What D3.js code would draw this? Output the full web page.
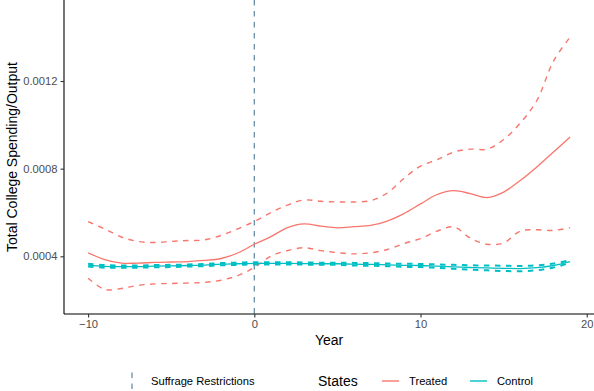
<!DOCTYPE html>
<html>
<head>
<meta charset="utf-8">
<script src="https://cdn.jsdelivr.net/npm/d3@7"></script>
<style>
  html, body { margin: 0; padding: 0; background: #fff; }
  svg { display: block; font-family: "Liberation Sans", Arial, sans-serif; }
</style>
</head>
<body>
<svg id="chart" width="594" height="391"></svg>
<script>
// Event time (years relative to the suffrage restriction)
const years = [-10,-9,-8,-7,-6,-5,-4,-3,-2,-1,0,1,2,3,4,5,6,7,8,9,10,11,12,13,14,15,16,17,18,19];

// Treated states: fitted mean and 95% band
const treatedMean  = [0.000416,0.000385,0.000369,0.000369,0.000372,0.000374,0.000376,0.000381,0.000390,0.000415,
                      0.000455,0.000490,0.000531,0.000548,0.000538,0.000530,0.000535,0.000541,0.000561,0.000595,
                      0.000639,0.000682,0.000700,0.000686,0.000668,0.000693,0.000746,0.000808,0.000876,0.000944];
const treatedUpper = [0.000558,0.000525,0.000488,0.000468,0.000463,0.000468,0.000472,0.000475,0.000495,0.000525,
                      0.000559,0.000600,0.000634,0.000657,0.000651,0.000648,0.000648,0.000654,0.000689,0.000755,
                      0.000812,0.000841,0.000876,0.000889,0.000889,0.000933,0.001008,0.001111,0.001291,0.001400];
const treatedLower = [0.000300,0.000249,0.000253,0.000267,0.000274,0.000276,0.000278,0.000281,0.000291,0.000312,
                      0.000349,0.000401,0.000426,0.000439,0.000426,0.000417,0.000411,0.000416,0.000431,0.000458,
                      0.000481,0.000515,0.000534,0.000483,0.000455,0.000461,0.000515,0.000521,0.000518,0.000531];

// Control states: fitted mean and 95% band
const controlMean  = [0.000360,0.000354,0.000353,0.000353,0.000355,0.000356,0.000358,0.000360,0.000364,0.000366,
                      0.000368,0.000368,0.000368,0.000367,0.000366,0.000366,0.000364,0.000363,0.000361,0.000359,
                      0.000358,0.000355,0.000352,0.000349,0.000347,0.000345,0.000344,0.000348,0.000358,0.000376];
const controlUpper = [0.000366,0.000360,0.000358,0.000358,0.000360,0.000361,0.000363,0.000365,0.000369,0.000371,
                      0.000373,0.000373,0.000373,0.000372,0.000371,0.000371,0.000370,0.000369,0.000367,0.000366,
                      0.000365,0.000363,0.000361,0.000359,0.000358,0.000357,0.000356,0.000359,0.000367,0.000382];
const controlLower = [0.000354,0.000348,0.000348,0.000348,0.000350,0.000351,0.000353,0.000355,0.000359,0.000361,
                      0.000363,0.000363,0.000363,0.000362,0.000361,0.000361,0.000358,0.000357,0.000355,0.000352,
                      0.000351,0.000347,0.000343,0.000339,0.000336,0.000333,0.000332,0.000337,0.000349,0.000370];

const xTicks = [-10, 0, 10, 20];
const yTicks = [0.0004, 0.0008, 0.0012];
const eventYear = 0;

const RED = "#F8766D", TEAL = "#00BFC4", VCOL = "#6a8ea4";

const svg = d3.select("#chart");
const pLeft = 64, pRight = 594.2, pTop = 0, pBottom = 314;

const x = d3.scaleLinear().domain([-11.45, 20.45]).range([pLeft, pRight]);
const y = d3.scaleLinear().domain([0.0001367, 0.0015697]).range([pBottom, pTop]);

const plot = svg.append("g");

// Treatment-year marker
plot.append("line")
  .attr("x1", x(eventYear)).attr("x2", x(eventYear))
  .attr("y1", pTop).attr("y2", pBottom)
  .attr("stroke", VCOL).attr("stroke-width", 1.3)
  .attr("stroke-dasharray", "5.5,5.5");

const line = vals => d3.line()
  .x((d, i) => x(years[i]))
  .y(d => y(d))
  .curve(d3.curveCatmullRom.alpha(0.5))(vals);

function drawSeries(vals, color, dashed, width) {
  plot.append("path")
    .attr("d", line(vals))
    .attr("fill", "none")
    .attr("stroke", color)
    .attr("stroke-width", width)
    .attr("stroke-dasharray", dashed ? "5.5,5.5" : null);
}

drawSeries(treatedUpper, RED, true, 1.4);
drawSeries(treatedLower, RED, true, 1.4);
drawSeries(treatedMean, RED, false, 1.3);
drawSeries(controlUpper, TEAL, true, 2.0);
drawSeries(controlLower, TEAL, true, 2.0);
drawSeries(controlMean, TEAL, false, 1.3);

// Axes
const xAxis = svg.append("g")
  .attr("transform", `translate(0,${pBottom})`)
  .call(d3.axisBottom(x).tickValues(xTicks).tickFormat(d3.format("d")).tickSize(3.5).tickPadding(3));
const yAxis = svg.append("g")
  .attr("transform", `translate(${pLeft},0)`)
  .call(d3.axisLeft(y).tickValues(yTicks).tickFormat(d3.format(".4f")).tickSize(3.5).tickPadding(3));

[xAxis, yAxis].forEach(a => {
  a.select(".domain").attr("stroke", "#000").attr("stroke-width", 1.1);
  a.selectAll(".tick line").attr("stroke", "#333").attr("stroke-width", 1.1);
  a.selectAll(".tick text").attr("fill", "#4d4d4d").style("font-size", "11.2px")
    .style("font-family", '"Liberation Sans", Arial, sans-serif');
});
xAxis.select(".domain").attr("d", `M${pLeft},0H${pRight}`);
yAxis.select(".domain").attr("d", `M0,${pTop}V${pBottom}`);

// Axis titles
svg.append("text")
  .attr("x", (pLeft + pRight) / 2).attr("y", 345)
  .attr("text-anchor", "middle")
  .style("font-size", "14px").attr("fill", "#000")
  .text("Year");
svg.append("text")
  .attr("transform", `translate(17,${(pTop + pBottom) / 2}) rotate(-90)`)
  .attr("text-anchor", "middle")
  .style("font-size", "14px").attr("fill", "#000")
  .text("Total College Spending/Output");

// Legend
const ly = 381;
const legend = svg.append("g");
legend.append("line")
  .attr("x1", 132).attr("x2", 132).attr("y1", ly - 8.5).attr("y2", ly + 12)
  .attr("stroke", VCOL).attr("stroke-width", 1.3).attr("stroke-dasharray", "5.5,5.5");
legend.append("text")
  .attr("x", 151).attr("y", ly).attr("dy", "0.35em")
  .style("font-size", "11.2px").attr("fill", "#000")
  .text("Suffrage Restrictions");
legend.append("text")
  .attr("x", 318).attr("y", ly).attr("dy", "0.35em")
  .style("font-size", "14px").attr("fill", "#000")
  .text("States");

const keys = [
  { label: "Treated", color: RED, x0: 382 },
  { label: "Control", color: TEAL, x0: 470 }
];
keys.forEach(k => {
  legend.append("line")
    .attr("x1", k.x0).attr("x2", k.x0 + 17).attr("y1", ly).attr("y2", ly)
    .attr("stroke", k.color).attr("stroke-width", 1.4);
  legend.append("text")
    .attr("x", k.x0 + 27).attr("y", ly).attr("dy", "0.35em")
    .style("font-size", "11.2px").attr("fill", "#000")
    .text(k.label);
});
</script>
</body>
</html>
